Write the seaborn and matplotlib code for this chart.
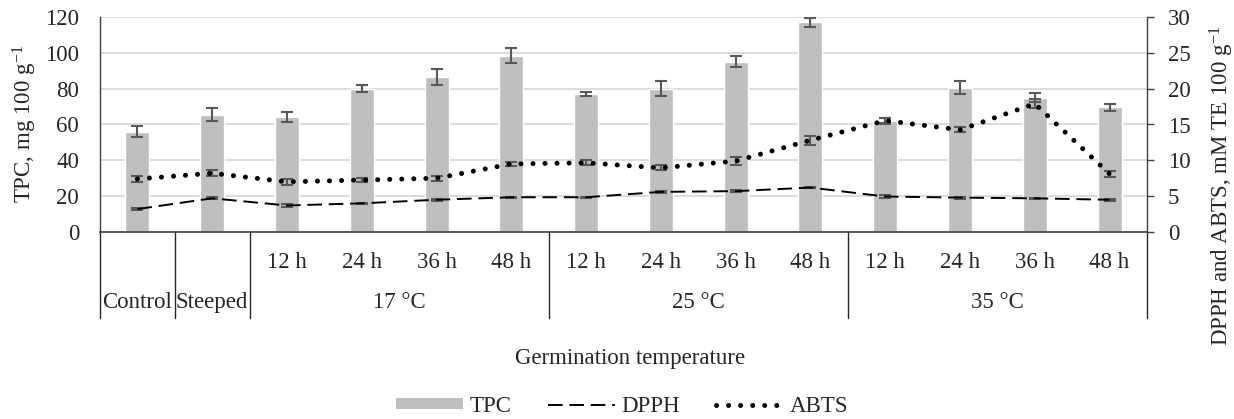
"""
TPC bars with DPPH / ABTS lines on a secondary axis, grouped by germination temperature.
"""

import matplotlib
import numpy as np
import pandas as pd
import seaborn as sns

matplotlib.use("Agg")
import matplotlib.pyplot as plt
import matplotlib.transforms as mtransforms
from matplotlib.lines import Line2D
from matplotlib.patches import Patch

# Data
group_names = ["Control", "Steeped", "17 °C", "25 °C", "35 °C"]
group_sizes = [1, 1, 4, 4, 4]
hour_labels = ["", "", "12 h", "24 h", "36 h", "48 h",
               "12 h", "24 h", "36 h", "48 h",
               "12 h", "24 h", "36 h", "48 h"]

tpc = [56, 65.5, 64, 80, 86.5, 98.5, 77, 80, 95, 117, 62, 80.5, 75, 69.5]
tpc_err = [3, 3.5, 2.8, 1.8, 4.5, 4, 1.2, 4, 3, 2.5, 1.5, 3.5, 2.5, 2]
dpph = [3.2, 4.7, 3.7, 4.0, 4.5, 4.85, 4.85, 5.6, 5.7, 6.2, 4.95, 4.8, 4.7, 4.5]
dpph_err = [0.1, 0.15, 0.15, 0.1, 0.15, 0.1, 0.1, 0.15, 0.15, 0.1, 0.15, 0.15, 0.1, 0.15]
abts = [7.4, 8.2, 7.0, 7.25, 7.5, 9.5, 9.65, 8.95, 9.9, 12.8, 15.55, 14.25, 17.9, 8.1]
abts_err = [0.4, 0.4, 0.4, 0.3, 0.35, 0.3, 0.35, 0.35, 0.6, 0.6, 0.35, 0.35, 0.6, 0.4]

FS = 16.5
BAR_COLOR = "#BFBFBF"
ERR_COLOR = "#595959"
GRID_COLOR = "#D9D9D9"
DOT_STYLE = dict(color="black", lw=3.6, linestyle=(0, (0.01, 2.4)), dash_capstyle="round")
DASH_STYLE = dict(color="black", lw=1.4, linestyle=(0, (7.5, 3.5)))


def build_frame() -> pd.DataFrame:
    groups = [g for g, n in zip(group_names, group_sizes) for _ in range(n)]
    df = pd.DataFrame({
        "group": groups,
        "hour": hour_labels,
        "TPC": tpc, "TPC_err": tpc_err,
        "DPPH": dpph, "DPPH_err": dpph_err,
        "ABTS": abts, "ABTS_err": abts_err,
    })
    df["sample"] = (df["group"] + " " + df["hour"]).str.strip()
    df["pos"] = np.arange(len(df))
    return df


def main() -> None:
    sns.set_theme(style="white")
    plt.rcParams["font.family"] = ["Liberation Serif", "DejaVu Serif"]
    plt.rcParams["mathtext.fontset"] = "custom"
    plt.rcParams["mathtext.rm"] = "Liberation Serif"
    plt.rcParams["mathtext.it"] = "Liberation Serif:italic"

    df = build_frame()

    fig = plt.figure(figsize=(12.34, 4.19), dpi=100)
    ax = fig.add_axes([100 / 1234, 1 - 232 / 419, 1047 / 1234, 215 / 419])

    sns.barplot(data=df, x="sample", y="TPC", order=list(df["sample"]),
                color=BAR_COLOR, width=0.32, errorbar=None, saturation=1,
                ax=ax, zorder=2)
    ax.errorbar(df["pos"], df["TPC"], yerr=df["TPC_err"], fmt="none",
                ecolor=ERR_COLOR, elinewidth=1.5, capsize=4.5, capthick=1.5,
                zorder=3)

    ax.set_ylim(0, 120)
    ax.set_yticks(np.arange(0, 121, 20))
    ax.set_xlim(-0.5, len(df) - 0.5)
    ax.set_xticks([])
    ax.set_xlabel("")
    ax.set_ylabel("")
    ax.grid(axis="y", color=GRID_COLOR, lw=1.3, zorder=0)
    ax.set_axisbelow(True)
    ax.tick_params(axis="y", length=0, pad=15, labelsize=FS)
    for side in ["top", "right"]:
        ax.spines[side].set_visible(False)
    ax.spines["left"].set_color("#404040")
    ax.spines["bottom"].set_color("#404040")
    ax.spines["left"].set_linewidth(1)
    ax.spines["bottom"].set_linewidth(1.2)

    ax2 = ax.twinx()
    ax2.errorbar(df["pos"], df["DPPH"], yerr=df["DPPH_err"], fmt="none",
                 ecolor=ERR_COLOR, elinewidth=1.5, capsize=4.5, capthick=1.5, zorder=3)
    ax2.errorbar(df["pos"], df["ABTS"], yerr=df["ABTS_err"], fmt="none",
                 ecolor=ERR_COLOR, elinewidth=1.5, capsize=4.5, capthick=1.5, zorder=3)
    sns.lineplot(data=df, x="pos", y="DPPH", ax=ax2, zorder=4, **DASH_STYLE)
    sns.lineplot(data=df, x="pos", y="ABTS", ax=ax2, zorder=5, **DOT_STYLE)
    ax2.set_ylim(0, 30)
    ax2.set_yticks(np.arange(0, 31, 5))
    ax2.set_xlim(-0.5, len(df) - 0.5)
    ax2.set_ylabel("")
    ax2.set_xlabel("")
    ax2.grid(False)
    ax2.tick_params(axis="y", length=5, width=1, color="#404040",
                    pad=10, labelsize=FS, direction="out", right=True)
    for side in ["top", "left", "bottom"]:
        ax2.spines[side].set_visible(False)
    ax2.spines["right"].set_color("#404040")
    ax2.spines["right"].set_linewidth(1)

    # two-level category axis under the plot
    trans = mtransforms.blended_transform_factory(ax.transData, ax.transAxes)
    bounds = np.concatenate([[0], np.cumsum(group_sizes)]) - 0.5
    for b in bounds:
        ax.plot([b, b], [0, -0.40], transform=trans, clip_on=False,
                color="#262626", lw=1)
    for x, h in zip(df["pos"], df["hour"]):
        if h:
            ax.text(x, -0.14, h, transform=trans, ha="center", va="center",
                    fontsize=FS)
    for name, lo, hi in zip(group_names, bounds[:-1], bounds[1:]):
        ax.text((lo + hi) / 2, -0.326, name, transform=trans, ha="center",
                va="center", fontsize=FS)

    fig.text(630 / 1234, 1 - 358 / 419, "Germination temperature",
             ha="center", va="center", fontsize=FS)
    fig.text(25 / 1234, 1 - 124 / 419, "TPC, mg 100 g$^{-1}$", rotation=90,
             ha="center", va="center", fontsize=FS)
    fig.text(1222 / 1234, 1 - 186 / 419, "DPPH and ABTS, mM TE 100 g$^{-1}$",
             rotation=90, ha="center", va="center", fontsize=FS)

    handles = [
        Patch(facecolor=BAR_COLOR, edgecolor="none", label="TPC"),
        Line2D([], [], label="DPPH", **DASH_STYLE),
        Line2D([], [], label="ABTS", **DOT_STYLE),
    ]
    fig.legend(handles=handles, loc="center", bbox_to_anchor=(622 / 1234, 1 - 406 / 419),
               ncol=3, frameon=False, fontsize=FS, handlelength=2.95,
               handleheight=0.4, handletextpad=0.25, columnspacing=1.6,
               borderpad=0, borderaxespad=0)

    fig.savefig("out.png", dpi=100)
    plt.close(fig)


if __name__ == "__main__":
    main()
